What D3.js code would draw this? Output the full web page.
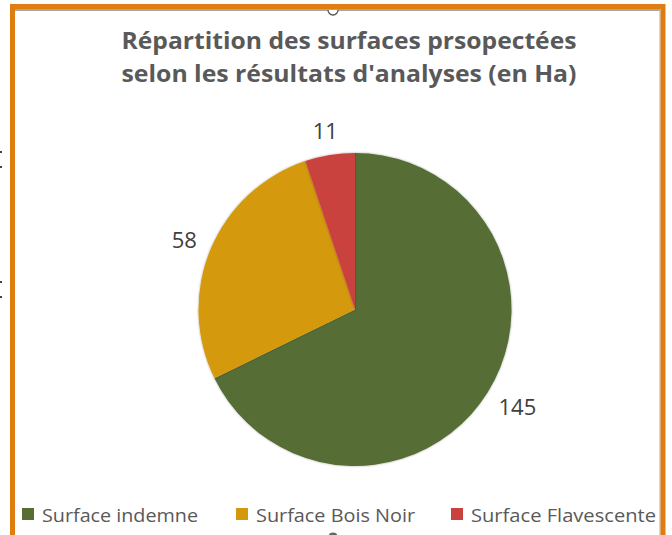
<!DOCTYPE html>
<html><head><meta charset="utf-8">
<script src="https://cdn.jsdelivr.net/npm/d3@7"></script>
<style>html,body{margin:0;padding:0;background:#fff;}svg{display:block;}</style>
</head><body>
<svg id="c" width="672" height="535"></svg>
<script>
const categories = ["Surface indemne", "Surface Bois Noir", "Surface Flavescente"];
const values = [145, 58, 11];
const colors = ["#566d34", "#d4990b", "#c9423e"];
const titleLines = ["Répartition des surfaces prsopectées", "selon les résultats d'analyses (en Ha)"];

const svg = d3.select("#c");
const W = 672, H = 535;

// frame
svg.append("rect").attr("x", 0).attr("y", 0).attr("width", W).attr("height", H).attr("fill", "#fff");
svg.append("line").attr("x1", 15).attr("x2", 660).attr("y1", 10).attr("y2", 10).attr("stroke", "#8a8a8a").attr("stroke-width", 1.5);
svg.append("line").attr("x1", 660).attr("x2", 660).attr("y1", 10).attr("y2", H).attr("stroke", "#b0b0b0").attr("stroke-width", 1);
svg.append("path").attr("d", `M12.5,${H} V6.5 H663 V${H}`).attr("fill", "none").attr("stroke", "#e07d10").attr("stroke-width", 5);
// selection handles
svg.append("path").attr("d", "M328,10 A5,5 0 0 0 338,10").attr("fill", "#fff").attr("stroke", "#555").attr("stroke-width", 1.3);
svg.append("ellipse").attr("cx", 333).attr("cy", 535).attr("rx", 4).attr("ry", 2.5).attr("fill", "#666");
[152, 167, 282, 297].forEach(y => svg.append("rect").attr("x", 0).attr("y", y - 1).attr("width", 2).attr("height", 2).attr("fill", "#444"));

// title
svg.append("g").selectAll("text").data(titleLines).join("text")
  .attr("x", 349).attr("y", (d, i) => 49 + i * 33)
  .attr("text-anchor", "middle")
  .attr("font-family", "'Open Sans', sans-serif")
  .attr("font-weight", "bold").attr("font-size", 23).attr("fill", "#595959")
  .attr("textLength", 455).attr("lengthAdjust", "spacingAndGlyphs")
  .text(d => d);

// pie
const cx = 355, cy = 309.5, R = 156.5;
const data = categories.map((c, i) => ({ name: c, value: values[i], color: colors[i] }));
const pie = d3.pie().value(d => d.value).sort(null);
const arcs = pie(data);
const arc = d3.arc().innerRadius(0).outerRadius(R);
const defs = svg.append("defs");
defs.append("filter").attr("id", "sh").attr("x", "-10%").attr("y", "-10%").attr("width", "120%").attr("height", "120%")
  .append("feDropShadow").attr("dx", 0).attr("dy", 0).attr("stdDeviation", 1.2).attr("flood-color", "#000").attr("flood-opacity", 0.35);
const g = svg.append("g").attr("transform", `translate(${cx},${cy})`);
g.selectAll("path").data(arcs).join("path")
  .attr("d", arc).attr("fill", d => d.data.color).attr("filter", "url(#sh)");

// labels outside (offset by text half-extent along the slice direction)
const gap = 16;
g.selectAll("text.lbl").data(arcs).join("text").attr("class", "lbl")
  .attr("font-family", "'Open Sans', sans-serif").attr("font-size", 22).attr("fill", "#404040")
  .attr("text-anchor", "middle").attr("dominant-baseline", "central")
  .text(d => d.data.value)
  .each(function(d) {
    const a = (d.startAngle + d.endAngle) / 2;
    const bb = this.getBBox();
    const hw = bb.width / 2, hh = 9;
    const sx = Math.sin(a), cyv = -Math.cos(a);
    const x = sx * (R + gap) + sx * hw;
    const y = cyv * (R + gap) + cyv * hh;
    d3.select(this).attr("x", x).attr("y", y);
  });

// legend
const legX = [22, 236, 451];
const legW = [156, 159, 185];
const items = svg.append("g").selectAll("g").data(data).join("g").attr("transform", (d, i) => `translate(${legX[i]},508)`);
items.append("rect").attr("width", 12).attr("height", 12).attr("fill", d => d.color);
items.append("text").attr("x", 20).attr("y", 14)
  .attr("font-family", "'Open Sans', sans-serif").attr("font-size", 18).attr("fill", "#595959")
  .attr("textLength", (d, i) => legW[i]).attr("lengthAdjust", "spacingAndGlyphs")
  .text(d => d.name);
</script>
</body></html>
